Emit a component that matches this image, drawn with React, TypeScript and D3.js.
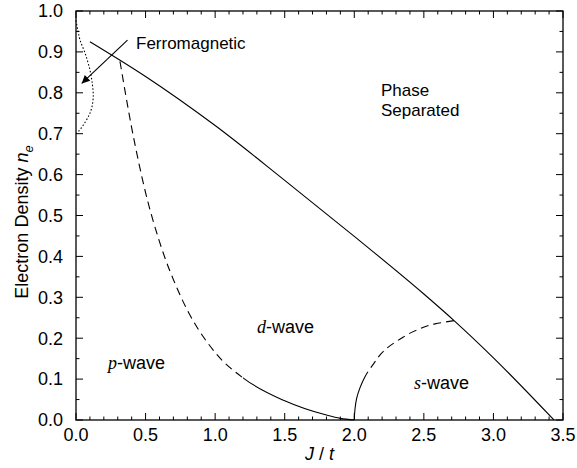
import React from "react";
import * as d3 from "d3";

const xMajorTicks = [0, 0.5, 1.0, 1.5, 2.0, 2.5, 3.0, 3.5];
const yMajorTicks = [0, 0.1, 0.2, 0.3, 0.4, 0.5, 0.6, 0.7, 0.8, 0.9, 1.0];

// phase-separation boundary (solid)
const phaseBoundary: [number, number][] = [
  [0.1, 0.925], [0.5, 0.84], [1.0, 0.72], [1.5, 0.586], [2.0, 0.449],
  [2.5, 0.308], [2.717, 0.243], [3.0, 0.152], [3.435, 0.0],
];

// p-wave / d-wave boundary (dashed above pWaveSolidFrom, solid below)
const pWave: [number, number][] = [
  [0.316, 0.877], [0.4, 0.715], [0.5, 0.556], [0.6, 0.436], [0.75, 0.304],
  [1.0, 0.165], [1.2, 0.103], [1.5, 0.047], [1.8, 0.012], [1.9, 0.004], [2.0, 0.0],
];
const pWaveSolidFrom = 1.2;

// d-wave / s-wave boundary (solid below sWaveSolidTo, dashed above)
const sWave: [number, number][] = [
  [2.0, 0.0], [2.005, 0.027], [2.017, 0.053], [2.04, 0.078], [2.077, 0.106],
  [2.14, 0.138], [2.209, 0.168], [2.33, 0.198], [2.449, 0.22], [2.58, 0.235], [2.717, 0.243],
];
const sWaveSolidTo = 2.085;

// ferromagnetic region boundary (dotted)
const ferro: [number, number][] = [
  [0.0, 0.977], [0.012, 0.955], [0.029, 0.929], [0.065, 0.897], [0.1, 0.856],
  [0.118, 0.82], [0.124, 0.79], [0.112, 0.762], [0.089, 0.742], [0.05, 0.72],
  [0.017, 0.705], [0.0, 0.7],
];

// arrow from label to ferromagnetic region
const arrowFrom: [number, number] = [0.37, 0.929];
const arrowTo: [number, number] = [0.041, 0.823];

const W = 577;
const H = 468;
const M = { left: 76, right: 563, top: 11, bottom: 420 };

const FONT = "'Liberation Sans', Arial, Helvetica, sans-serif";
const SERIF = "'Liberation Serif', 'Times New Roman', serif";

export default function App() {
  const x = d3.scaleLinear().domain([0, 3.5]).range([M.left, M.right]);
  const y = d3.scaleLinear().domain([0, 1]).range([M.bottom, M.top]);

  const lineX = d3
    .line<[number, number]>()
    .x((d) => x(d[0]))
    .y((d) => y(d[1]))
    .curve(d3.curveMonotoneX);
  const lineY = d3
    .line<[number, number]>()
    .x((d) => x(d[0]))
    .y((d) => y(d[1]))
    .curve(d3.curveMonotoneY);
  const lineCR = d3
    .line<[number, number]>()
    .x((d) => x(d[0]))
    .y((d) => y(d[1]))
    .curve(d3.curveCatmullRom.alpha(0.5));

  const xMinor = d3.range(0, 35.01, 1).map((v) => v / 10);
  const yMinor = d3.range(0, 20.01, 1).map((v) => v / 20);

  const majLen = 7;
  const minLen = 3.5;

  const isMajorX = (v: number) => Math.abs(v * 2 - Math.round(v * 2)) < 1e-6;
  const isMajorY = (v: number) => Math.abs(v * 10 - Math.round(v * 10)) < 1e-6;

  const sRev = [...sWave].reverse();

  return (
    <svg width={W} height={H} style={{ position: "absolute", left: 0, top: 0, background: "#fff" }}>
      <defs>
        <clipPath id="pDash">
          <rect x={0} y={0} width={x(pWaveSolidFrom)} height={H} />
        </clipPath>
        <clipPath id="pSolid">
          <rect x={x(pWaveSolidFrom)} y={0} width={W} height={H} />
        </clipPath>
        <clipPath id="sSolid">
          <rect x={0} y={0} width={x(sWaveSolidTo)} height={H} />
        </clipPath>
        <clipPath id="sDash">
          <rect x={x(sWaveSolidTo)} y={0} width={W} height={H} />
        </clipPath>
        <marker id="arrow" viewBox="0 0 10 10" refX={10} refY={5} markerWidth={10} markerHeight={8}
          markerUnits="userSpaceOnUse" orient="auto">
          <path d="M0,0 L10,5 L0,10 z" fill="#000" />
        </marker>
      </defs>

      {/* ticks */}
      <g stroke="#000" strokeWidth={1}>
        {xMinor.map((v, i) => {
          const len = isMajorX(v) ? majLen : minLen;
          return (
            <g key={"xt" + i}>
              <line x1={x(v)} x2={x(v)} y1={M.bottom} y2={M.bottom - len} />
              <line x1={x(v)} x2={x(v)} y1={M.top} y2={M.top + len} />
            </g>
          );
        })}
        {yMinor.map((v, i) => {
          const len = isMajorY(v) ? majLen : minLen;
          return (
            <g key={"yt" + i}>
              <line x1={M.left} x2={M.left + len} y1={y(v)} y2={y(v)} />
              <line x1={M.right} x2={M.right - len} y1={y(v)} y2={y(v)} />
            </g>
          );
        })}
      </g>

      {/* frame */}
      <rect x={M.left} y={M.top} width={M.right - M.left} height={M.bottom - M.top}
        fill="none" stroke="#000" strokeWidth={1.3} />

      {/* tick labels */}
      <g fontFamily={FONT} fontSize={18} fill="#000">
        {xMajorTicks.map((v) => (
          <text key={"xl" + v} x={x(v)} y={441} textAnchor="middle">{v.toFixed(1)}</text>
        ))}
        {yMajorTicks.map((v) => (
          <text key={"yl" + v} x={63} y={y(v)} dy="0.35em" textAnchor="end">{v.toFixed(1)}</text>
        ))}
      </g>

      {/* curves */}
      <g fill="none" stroke="#000" strokeWidth={1.1}>
        <path d={lineX(phaseBoundary) || ""} />
        <path d={lineX(pWave) || ""} clipPath="url(#pDash)" strokeDasharray="8,5" />
        <path d={lineX(pWave) || ""} clipPath="url(#pSolid)" />
        <path d={lineY(sWave) || ""} clipPath="url(#sSolid)" />
        <path d={lineY(sRev) || ""} clipPath="url(#sDash)" strokeDasharray="8,5" />
        <path d={lineCR(ferro) || ""} strokeDasharray="1.5,2" />
        <line x1={x(arrowFrom[0])} y1={y(arrowFrom[1])} x2={x(arrowTo[0])} y2={y(arrowTo[1])}
          markerEnd="url(#arrow)" />
      </g>

      {/* region labels */}
      <g fontFamily={FONT} fontSize={17} fill="#000">
        <text x={136} y={49}>Ferromagnetic</text>
        <text x={381} y={96}>Phase</text>
        <text x={381} y={116}>Separated</text>
      </g>
      <g fontFamily={FONT} fontSize={18} fill="#000">
        <text x={257} y={333}>
          <tspan fontFamily={SERIF} fontStyle="italic">d</tspan>-wave
        </text>
        <text x={108} y={369}>
          <tspan fontFamily={SERIF} fontStyle="italic">p</tspan>-wave
        </text>
        <text x={414} y={389}>
          <tspan fontFamily={SERIF} fontStyle="italic">s</tspan>-wave
        </text>
      </g>

      {/* axis titles */}
      <g fontFamily={FONT} fontSize={18} fill="#000">
        <text x={(M.left + M.right) / 2} y={460} textAnchor="middle">
          <tspan fontStyle="italic">J</tspan> / <tspan fontStyle="italic">t</tspan>
        </text>
        <text transform={`translate(28,222) rotate(-90)`} textAnchor="middle">
          Electron Density <tspan fontStyle="italic">n</tspan>
          <tspan fontStyle="italic" fontSize={13} dy={5}>e</tspan>
        </text>
      </g>
    </svg>
  );
}
